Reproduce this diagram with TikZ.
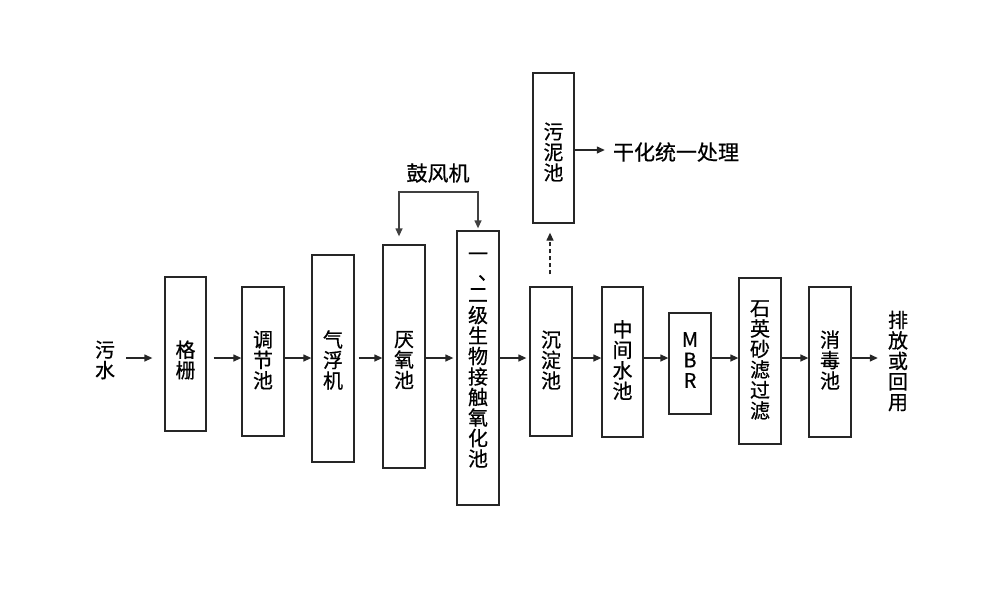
\documentclass[tikz,border=0pt]{standalone}
\usepackage{fontspec}
\newfontfamily\cjk[FakeBold=0.6]{Noto Sans CJK SC}
\usetikzlibrary{arrows.meta,fit}
\tikzset{
  box/.style={draw=black!85, line width=1.3pt, inner sep=0pt, fill=none},
  txt/.style={inner sep=0pt, align=center, font=\cjk\fontsize{20}{20.5}\selectfont},
  htxt/.style={inner sep=0pt, font=\cjk\fontsize{21}{21}\selectfont},
  arr/.style={line width=1.3pt, black!85, -{Triangle[length=8pt,width=7pt]}},
  darr/.style={arr, dash pattern=on 4pt off 3pt}
}
\begin{document}
\begin{tikzpicture}[x=1pt,y=-1pt]
\useasboundingbox (0,0) rectangle (1000,592);
% boxes
\node[box, fit={(165,277) (206,431)}] (b1) {};
\node[box, fit={(242,287) (284,436)}] (b2) {};
\node[box, fit={(312,255) (354,462)}] (b3) {};
\node[box, fit={(383,245) (425,468)}] (b4) {};
\node[box, fit={(457,231) (499,505)}] (b5) {};
\node[box, fit={(530,287) (572,436)}] (b6) {};
\node[box, fit={(602,287) (643,437)}] (b7) {};
\node[box, fit={(669,313) (711,414)}] (b8) {};
\node[box, fit={(739,278) (781,444)}] (b9) {};
\node[box, fit={(809,287) (851,437)}] (b10) {};
\node[box, fit={(533,73) (574,223)}] (b11) {};
% texts
\node[txt] (src) at (105,360) {污\\水};
\node[txt] (t1) at (185.5,360) {格\\栅};
\node[txt] (t2) at (263,360) {调\\节\\池};
\node[txt] (t3) at (333,360) {气\\浮\\机};
\node[txt] (t4) at (404,360) {厌\\氧\\池};
\node[txt] (t5) at (478,360) {一\\\makebox[1em][l]{\hspace*{0.5em}\raisebox{0.1em}{、}}\\二\\级\\生\\物\\接\\触\\氧\\化\\池};
\node[txt] (t6) at (551,360) {沉\\淀\\池};
\node[txt] (t7) at (622.5,360) {中\\间\\水\\池};
\node[txt] (t8) at (690,360) {M\\B\\R};
\node[txt] (t9) at (760,360) {石\\英\\砂\\滤\\过\\滤};
\node[txt] (t10) at (830,360) {消\\毒\\池};
\node[txt] (t11) at (553.5,152) {污\\泥\\池};
\node[txt] (out) at (898,361) {排\\放\\或\\回\\用};
\node[htxt] (dry) at (676,152) {干化统一处理};
\node[htxt] (blow) at (438,173) {鼓风机};
% connectors
\coordinate (ay) at (0,358);
\draw[arr, shorten <=11pt, shorten >=12pt] (src.east |- ay) -- (b1.west |- ay);
\draw[arr, shorten <=7pt] (b1.east |- ay) -- (b2.west |- ay);
\draw[arr] (b2.east |- ay) -- (b3.west |- ay);
\draw[arr, shorten <=4pt] (b3.east |- ay) -- (b4.west |- ay);
\draw[arr, shorten >=3pt] (b4.east |- ay) -- (b5.west |- ay);
\draw[arr, shorten >=3pt] (b5.east |- ay) -- (b6.west |- ay);
\draw[arr] (b6.east |- ay) -- (b7.west |- ay);
\draw[arr] (b7.east |- ay) -- (b8.west |- ay);
\draw[arr] (b8.east |- ay) -- (b9.west |- ay);
\draw[arr] (b9.east |- ay) -- (b10.west |- ay);
\draw[arr, shorten >=10pt] (b10.east |- ay) -- (out.west |- ay);
% blower
\coordinate (bL) at (399,192);
\coordinate (bR) at (478,192);
\draw[line width=1.3pt, black!75, {Triangle[length=8pt,width=7pt]}-{Triangle[length=8pt,width=7pt]}, shorten <=8pt, shorten >=2pt]
  (b4.north -| bL) -- (bL) -- (bR) -- (b5.north -| bR);
% sludge
\coordinate (sx) at (550,0);
\draw[darr, shorten <=12pt, shorten >=9pt] (b6.north -| sx) -- (b11.south -| sx);
\coordinate (dy) at (0,150);
\draw[arr, shorten >=8pt] (b11.east |- dy) -- (dry.west |- dy);
\end{tikzpicture}
\end{document}
